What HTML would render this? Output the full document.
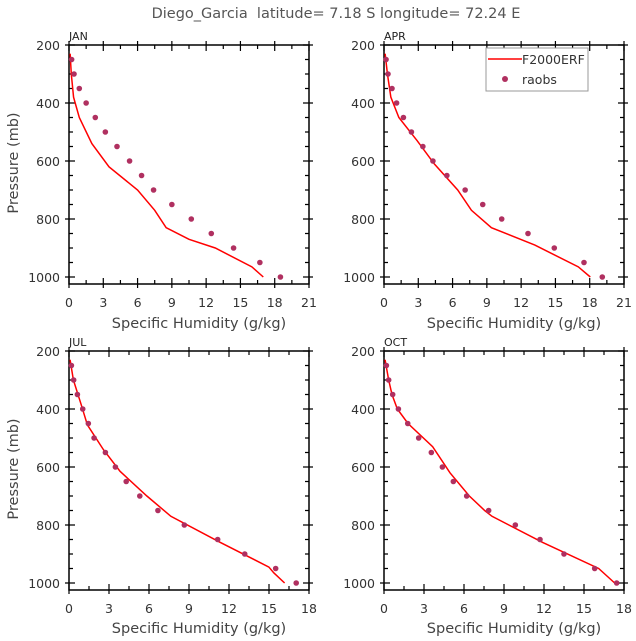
<!DOCTYPE html>
<html><head><meta charset="utf-8"><style>
html,body{margin:0;padding:0;background:#fff;}
svg{display:block;font-family:"DejaVu Sans","Liberation Sans",sans-serif;}
.t{font-size:12.5px;fill:#333;}
.ax{font-size:14.5px;fill:#444;}
.m{font-size:11px;fill:#222;}
</style></head><body>
<svg id="s" width="636" height="641" viewBox="0 0 636 641" xmlns="http://www.w3.org/2000/svg">
<text x="336" y="18" text-anchor="middle" xml:space="preserve" style="font-size:14.5px;fill:#555;white-space:pre">Diego_Garcia  latitude= 7.18 S longitude= 72.24 E</text>

<g id="p0" transform="translate(69,45)">
<text class="m" x="0" y="-5">JAN</text>
<g class="t" text-anchor="end"><text x="-9" y="5">200</text><text x="-9" y="63">400</text><text x="-9" y="121">600</text><text x="-9" y="179">800</text><text x="-9" y="237">1000</text></g>
<g class="t" text-anchor="middle"><text x="0" y="262">0</text><text x="34.3" y="262">3</text><text x="68.6" y="262">6</text><text x="102.9" y="262">9</text><text x="137.1" y="262">12</text><text x="171.4" y="262">15</text><text x="205.7" y="262">18</text><text x="240" y="262">21</text></g>
<text class="ax" x="130" y="283" text-anchor="middle">Specific Humidity (g/kg)</text>
<text class="ax" transform="translate(-51,118) rotate(-90)" text-anchor="middle">Pressure (mb)</text>
</g>
<g id="p1" transform="translate(384,45)">
<text class="m" x="0" y="-5">APR</text>
<g class="t" text-anchor="end"><text x="-9" y="5">200</text><text x="-9" y="63">400</text><text x="-9" y="121">600</text><text x="-9" y="179">800</text><text x="-9" y="237">1000</text></g>
<g class="t" text-anchor="middle"><text x="0" y="262">0</text><text x="34.3" y="262">3</text><text x="68.6" y="262">6</text><text x="102.9" y="262">9</text><text x="137.1" y="262">12</text><text x="171.4" y="262">15</text><text x="205.7" y="262">18</text><text x="240" y="262">21</text></g>
<text class="ax" x="130" y="283" text-anchor="middle">Specific Humidity (g/kg)</text>
<rect x="102" y="3" width="102" height="43" fill="#fff" stroke="#999" stroke-width="1"/>
<line x1="104" y1="14" x2="138" y2="14" stroke="#f00" stroke-width="1.5"/>
<text x="138" y="19" style="font-size:12.5px;fill:#333">F2000ERF</text>
<circle cx="121" cy="34" r="3" fill="#b03060"/>
<text x="138" y="39" style="font-size:12.5px;fill:#333">raobs</text>
</g>
<g id="p2" transform="translate(69,351)">
<text class="m" x="0" y="-5">JUL</text>
<g class="t" text-anchor="end"><text x="-9" y="5">200</text><text x="-9" y="63">400</text><text x="-9" y="121">600</text><text x="-9" y="179">800</text><text x="-9" y="237">1000</text></g>
<g class="t" text-anchor="middle"><text x="0" y="262">0</text><text x="40" y="262">3</text><text x="80" y="262">6</text><text x="120" y="262">9</text><text x="160" y="262">12</text><text x="200" y="262">15</text><text x="240" y="262">18</text></g>
<text class="ax" x="130" y="282" text-anchor="middle">Specific Humidity (g/kg)</text>
<text class="ax" transform="translate(-51,118) rotate(-90)" text-anchor="middle">Pressure (mb)</text>
</g>
<g id="p3" transform="translate(384,351)">
<text class="m" x="0" y="-5">OCT</text>
<g class="t" text-anchor="end"><text x="-9" y="5">200</text><text x="-9" y="63">400</text><text x="-9" y="121">600</text><text x="-9" y="179">800</text><text x="-9" y="237">1000</text></g>
<g class="t" text-anchor="middle"><text x="0" y="262">0</text><text x="40" y="262">3</text><text x="80" y="262">6</text><text x="120" y="262">9</text><text x="160" y="262">12</text><text x="200" y="262">15</text><text x="240" y="262">18</text></g>
<text class="ax" x="130" y="282" text-anchor="middle">Specific Humidity (g/kg)</text>
</g>
</svg>
<script>
var NS="http://www.w3.org/2000/svg";
function add(p,n,a){var e=document.createElementNS(NS,n);for(var k in a)e.setAttribute(k,a[k]);p.appendChild(e);return e;}
var P=[
{xm:21,
 line:[[0.1,230],[0.2,300],[0.4,380],[0.9,450],[2,540],[3.5,620],[6,700],[7.5,770],[8.5,830],[10.5,870],[12.8,900],[16,965],[17,1000]],
 dots:[[0.23,250],[0.44,300],[0.9,350],[1.5,400],[2.3,450],[3.18,500],[4.2,550],[5.3,600],[6.35,650],[7.4,700],[9.0,750],[10.7,800],[12.45,850],[14.4,900],[16.7,950],[18.5,1000]]},
{xm:21,
 line:[[0.1,230],[0.3,300],[0.6,380],[1.3,450],[2.9,530],[4.4,610],[6.45,700],[7.65,770],[9.4,830],[13.2,890],[17,965],[18.05,1000]],
 dots:[[0.18,250],[0.35,300],[0.7,350],[1.1,400],[1.7,450],[2.4,500],[3.4,550],[4.28,600],[5.5,650],[7.1,700],[8.64,750],[10.3,800],[12.6,850],[14.9,900],[17.5,950],[19.1,1000]]},
{xm:18,
 line:[[0.08,230],[0.33,300],[0.88,380],[1.38,455],[2.58,540],[3.83,615],[5.84,700],[7.64,770],[11.35,860],[14.99,945],[15.36,965],[16.17,1000]],
 dots:[[0.18,250],[0.35,300],[0.63,350],[1.03,400],[1.45,450],[1.88,500],[2.73,550],[3.48,600],[4.29,650],[5.31,700],[6.67,750],[8.65,800],[11.15,850],[13.18,900],[15.5,950],[17.04,1000]]},
{xm:18,
 line:[[0.08,230],[0.35,300],[0.6,350],[1.0,400],[1.8,450],[3.65,530],[4.95,620],[6.4,700],[7.55,750],[8.1,770],[11.9,860],[16.1,950],[17.3,1000]],
 dots:[[0.18,250],[0.35,300],[0.65,350],[1.08,400],[1.78,450],[2.6,500],[3.55,550],[4.38,600],[5.2,650],[6.2,700],[7.85,750],[9.85,800],[11.7,850],[13.5,900],[15.8,950],[17.45,1000]]}
];
var W=240,H=239;
P.forEach(function(d,i){
 var g=document.getElementById("p"+i);
 var X=function(q){return q*W/d.xm;},Y=function(p){return (p-200)*0.29;};
 var fr=add(g,"g",{});
 var s="";
 for(var p=200;p<=1000;p+=50){var y=Y(p),maj=(p%200==0);
  var li=maj?6:4;
  s+="M0,"+y+"h"+li+(maj?"M-4,"+y+"h4":"")+"M"+W+","+y+"h-"+li+(maj?"M"+(W+4)+","+y+"h-4":"");}
 var st=1.5,n=Math.round(d.xm/st);
 for(var k=0;k<=n;k++){var x=X(k*st),maj=(k%2==0);var li=maj?6:4;
  s+="M"+x+",0v"+li+(maj?"M"+x+",-4v4":"")+"M"+x+","+H+"v-"+li+(maj?"M"+x+","+(H+4)+"v-4":"");}
 add(fr,"path",{d:s,stroke:"#000","stroke-width":1.2,fill:"none"});
 add(fr,"rect",{x:0,y:0,width:W,height:H,fill:"none",stroke:"#000","stroke-width":1.5});
 add(fr,"polyline",{points:d.line.map(function(a){return X(a[0])+","+Y(a[1]);}).join(" "),fill:"none",stroke:"#f00","stroke-width":1.5});
 d.dots.forEach(function(a){add(fr,"circle",{cx:X(a[0]),cy:Y(a[1]),r:2.8,fill:"#b03060"});});
 if(i==1){
  var kids=[].slice.call(g.querySelectorAll("rect,line,circle,text")).filter(function(e){return e.parentNode===g;});
  kids.forEach(function(e){g.appendChild(e);});
 }
});
</script>
</body></html>
